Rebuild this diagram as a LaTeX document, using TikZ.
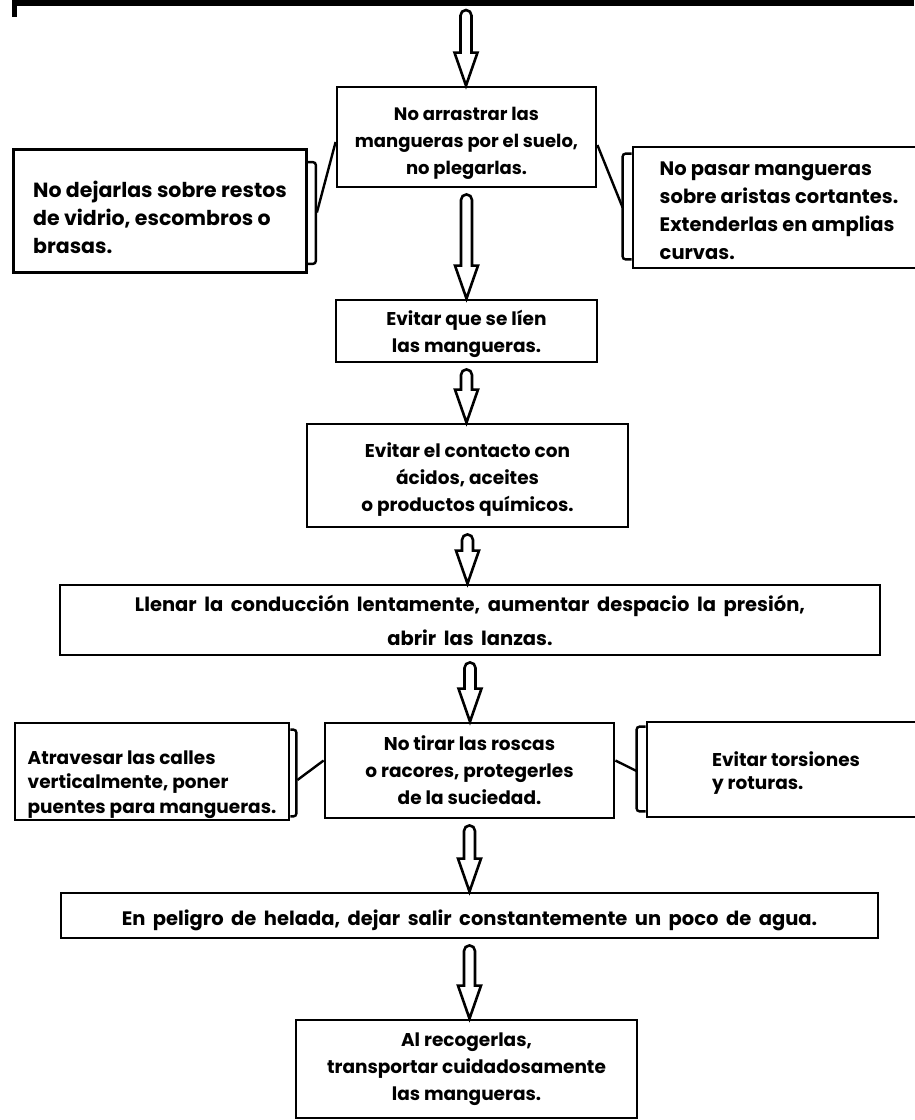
\documentclass[tikz,border=0pt]{standalone}
\usepackage{fontspec}
\setmainfont{Poppins}
\usetikzlibrary{calc}
\tikzset{
  box/.style={draw, line width=2.8pt, inner sep=0pt, align=center,
    font=\fontsize{18.5}{27}\selectfont\bfseries},
  sidebox/.style={box, align=left},
  rim/.style={line width=2.4pt, rounded corners=3pt},
  hose/.style={line width=2.6pt, line join=miter},
}
\newcommand{\drop}[1]{\rule{0pt}{#1pt}}
\newcommand{\widewords}[1]{\spaceskip=#1pt plus 2pt\relax}
\newcommand{\hosearrow}[2]{%
  \draw[hose] let \p1=(#1), \p2=(#2) in
    (\x1+5.5pt,\y1-11.5pt) arc[start angle=0,end angle=180,radius=5.5pt]
    -- (\x1-5.5pt,\y2+33pt) -- (\x1-11.5pt,\y2+33pt) -- (\x1,\y2)
    -- (\x1+11.5pt,\y2+33pt) -- (\x1+5.5pt,\y2+33pt) -- cycle;}
\begin{document}
\begin{tikzpicture}[x=1pt,y=-1pt]
  \useasboundingbox[fill=white] (0,0) rectangle (914,1120);
  \fill (13,0) rectangle (914,6);
  \fill (12,0) rectangle (17,17);
  \coordinate (top) at (466,4);
  \draw
    (466.5,137) node[box, minimum width=259pt, minimum height=100pt,
      font=\fontsize{18}{27}\selectfont\bfseries] (drag)
      {\drop{26}No arrastrar las\\mangueras por el suelo,\\no plegarlas.}
    (160,211) node[sidebox, minimum width=293pt, minimum height=123pt,
      font=\fontsize{20.5}{28}\selectfont\bfseries] (glass)
      {\drop{30}No dejarlas sobre restos\\de vidrio, escombros o\\brasas.}
    (779,207.5) node[sidebox, minimum width=292pt, minimum height=121pt,
      font=\fontsize{19.5}{28}\selectfont\bfseries] (edges)
      {\drop{20}No pasar mangueras\\sobre aristas cortantes.\\Extenderlas en amplias\\curvas.}
    (466.5,331) node[box, minimum width=261pt, minimum height=62pt] (tangle)
      {\drop{22}Evitar que se líen\\las mangueras.}
    (467.5,475.5) node[box, minimum width=321pt, minimum height=103pt] (acid)
      {\drop{22}Evitar el contacto con\\ácidos, aceites\\o productos químicos.}
    (470,620) node[box, minimum width=820pt, minimum height=70pt,
      font=\fontsize{19.5}{34}\selectfont\bfseries\widewords{7.5}] (fill)
      {Llenar la conducción lentamente, aumentar despacio la presión,\\abrir las lanzas.}
    (469.5,770.5) node[box, minimum width=289pt, minimum height=95pt] (threads)
      {No tirar las roscas\\o racores, protegerles\\de la suciedad.}
    (152,771.5) node[sidebox, minimum width=274pt, minimum height=97pt,
      font=\fontsize{18.5}{24.5}\selectfont\bfseries] (streets)
      {\drop{40}Atravesar las calles\\verticalmente, poner\\puentes para mangueras.}
    (786,769.5) node[sidebox, minimum width=278pt, minimum height=95pt,
      font=\fontsize{18.5}{23.5}\selectfont\bfseries] (twist)
      {\drop{22}Evitar torsiones\\y roturas.}
    (469.5,915.5) node[box, minimum width=817pt, minimum height=45pt,
      font=\fontsize{19.5}{27}\selectfont\bfseries\widewords{7.5}] (frost)
      {\drop{26}En peligro de helada, dejar salir constantemente un poco de agua.}
    (466.5,1069) node[box, minimum width=341pt, minimum height=98pt] (pack)
      {Al recogerlas,\\transportar cuidadosamente\\las mangueras.};
  \coordinate (rimglass) at ([xshift=9pt,yshift=-1.5pt]glass.east);
  \coordinate (rimedges) at ([xshift=-9pt]edges.west);
  \coordinate (rimstreets) at ([xshift=7pt,yshift=-8.5pt]streets.east);
  \coordinate (rimtwist) at ([xshift=-9pt,yshift=-1.5pt]twist.west);
  \begin{scope}[rim]
    \draw ([yshift=-14pt]glass.north east) -| ([xshift=8pt,yshift=10pt]glass.south east)
      -- ([yshift=10pt]glass.south east);
    \draw ([yshift=-8pt]edges.north west) -| ([xshift=-9pt,yshift=10pt]edges.south west)
      -- ([yshift=10pt]edges.south west);
    \draw ([yshift=-8pt]streets.north east) -| ([xshift=6pt,yshift=5pt]streets.south east)
      -- ([yshift=5pt]streets.south east);
    \draw ([yshift=-6pt]twist.north west) -| ([xshift=-9pt,yshift=7pt]twist.south west)
      -- ([yshift=7pt]twist.south west);
    \draw ([yshift=-5pt]drag.west) -- (rimglass);
    \draw ([yshift=-8pt]drag.east) -- (rimedges);
    \draw ([yshift=10pt]threads.west) -- (rimstreets);
    \draw ([yshift=10pt]threads.east) -- (rimtwist);
  \end{scope}
  \hosearrow{top}{drag.north}
  \hosearrow{drag.south}{tangle.north}
  \hosearrow{tangle.south}{acid.north}
  \hosearrow{acid.south}{fill.north}
  \hosearrow{fill.south}{threads.north}
  \hosearrow{threads.south}{frost.north}
  \hosearrow{frost.south}{pack.north}
\end{tikzpicture}
\end{document}
